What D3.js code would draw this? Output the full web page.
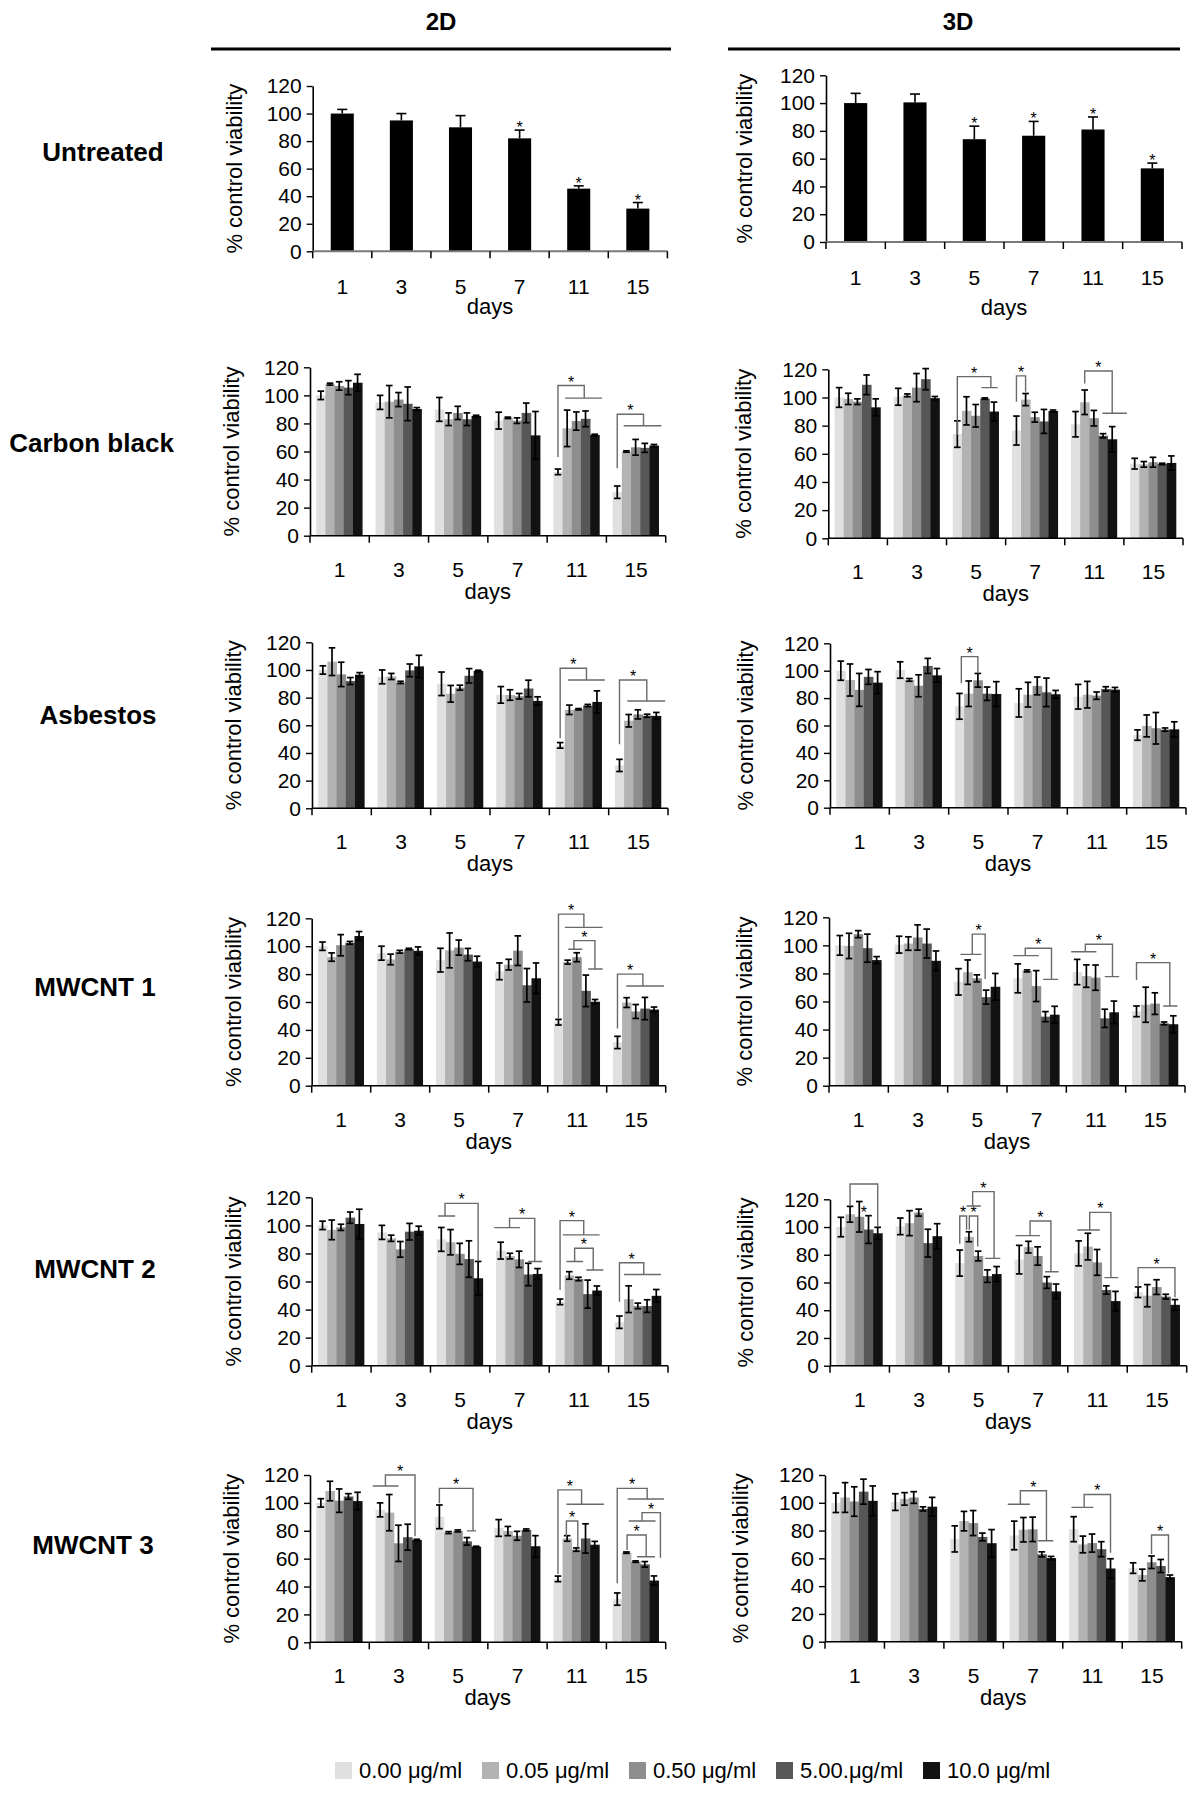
<!DOCTYPE html>
<html><head><meta charset="utf-8">
<script src="https://cdn.jsdelivr.net/npm/d3@7"></script>
<style>
body{margin:0;background:#fff;}
svg text{font-family:"Liberation Sans", Arial, Helvetica, sans-serif;}
</style></head><body>
<svg id="chart" width="1200" height="1793"></svg>
<script>
// ---------------- DATA ----------------
const days = ["1","3","5","7","11","15"];
const doses = ["0.00 μg/ml","0.05 μg/ml","0.50 μg/ml","5.00.μg/ml","10.0 μg/ml"];
const yTicks = [0,20,40,60,80,100,120];
const columnTitles = ["2D","3D"];
const rowLabels = ["Untreated","Carbon black","Asbestos","MWCNT 1","MWCNT 2","MWCNT 3"];
const xTitle = "days";
const yTitle = "% control viability";

const untreated2D = [100,95,90,82,45.5,31];
const untreated2DErr = [3,5,8.5,6,2,4.4];
const untreated2DSig = [0,0,0,1,1,1];
const untreated3D = [100,100.5,74,76.5,81,53];
const untreated3DErr = [7,6,9.4,10.3,9,3.8];
const untreated3DSig = [0,0,1,1,1,1];

// values per day (rows) x dose (columns)
const carbon2D = [[100,108,106.7,105.5,109],[95,95.5,97,94,90.3],[90,83,87.5,83,85.3],[82,84,82,87.5,71.5],[45.5,76.5,81.7,83.3,71.8],[31,60,63,62.6,64.2]];
const carbon2DErr = [[3,0.7,3,5,6],[5,11.5,5,12,1],[8.5,4.5,4.7,4.5,0.5],[6,0.5,2,7,17],[2,13,6.5,5.6,0.5],[4.4,0.5,5.6,3.2,0.8]];
const carbon3D = [[100,99,97,109,93],[100.5,101.5,107,113,99.5],[74,90.5,87,99.2,90],[76.5,98.5,86,83,90.4],[81,96.6,85.3,72.8,70.3],[53,52.5,54,52.8,53.5]];
const carbon3DErr = [[7,4,2,7,6],[6,1,10,7.5,1.2],[9.4,10,8,0.5,6.7],[10.3,4.3,3.5,8.5,0.7],[9,8.7,5.5,1.5,9],[3.8,2,3.5,0.5,5]];

const asbestos2D = [[100,106,96.8,92,96.6],[95,95.3,91,99.7,102.6],[90,82.8,87.2,95.8,99.3],[82,81.9,81,86.6,77.6],[45.5,71.2,71.6,74.3,76.9],[31,63.3,67.9,66.9,66.8]];
const asbestos2DErr = [[3,10,8.8,2.5,1.5],[5,2.2,0.8,4.6,8],[8.5,6,1.8,5.2,0.5],[6,3.8,2,6,3],[2,3.4,0.5,0.8,8],[4.4,4.5,3.3,1.1,2.5]];
const asbestos3D = [[100,93.2,86,95.5,91.3],[100.5,93.3,89,103.5,96.6],[74,83.2,93,83.2,83],[76.5,82.5,88.9,84.2,82.8],[81,82.5,81.8,86.7,86.2],[53,59.7,58,57,57.2]];
const asbestos3DErr = [[7,11.7,12,5.4,8],[6,1,8,5.5,5],[9.4,9.3,5,4.9,9],[10.3,9,6.5,10.4,2.8],[9,9.7,2.7,1.6,1.6],[3.8,8,11.5,1.2,5.5]];

const mwcnt1_2D = [[100,92.2,100.7,102.4,107.3],[95,90.5,96,98,96.7],[90,97,99,94,89],[82,86.8,96.8,72,77],[45.5,88.6,92.1,68,60.2],[31,59.6,53.2,55.3,54.6]];
const mwcnt1_2DErr = [[3,3,7.6,1,3.2],[5,3.8,1,0.5,2.8],[8.5,12.5,5.4,4.4,3.8],[6,3.8,10.6,12,11],[2,1.4,3.2,11.3,1.6],[4.4,3.5,5,8,1.8]];
const mwcnt1_3D = [[100,99.6,108,98,89.5],[100.5,101.3,105.6,101.3,89],[74,80.9,76.5,63.1,70.5],[76.5,81.8,71,49.2,50.6],[81,78.1,77,48,52.3],[53,57.7,58.5,44.4,43.8]];
const mwcnt1_3DErr = [[7,9,2.5,10,2.5],[6,4.8,9,10.3,7],[9.4,8.7,2.5,5,9.5],[10.3,0.7,11,3.6,6],[9,8,9,6.5,8],[3.8,12.5,7.7,1,6]];

const mwcnt2_2D = [[100,96.8,98.6,105.5,101],[95,90.8,82.9,95.5,96.2],[90,88,79.7,76,62.3],[82,78.1,75.8,65,65.4],[45.5,64.3,61.8,51,53.6],[31,47.4,42.6,42.5,49.8]];
const mwcnt2_2DErr = [[3,7,2.2,4,10.5],[5,2.2,5.6,5.9,3.2],[8.5,9,7.5,13,12],[6,2,5.8,8,3.8],[2,2.7,1.2,10,3.2],[4.4,9.5,2,4.5,4.5]];
const mwcnt2_3D = [[100,109.2,107.4,98.2,95.5],[100.5,102.8,110.4,88.4,93.4],[74,93,79.1,64.6,66.1],[76.5,85.5,79.1,60,53.6],[81,85.9,74.5,54.6,46.6],[53,50.5,56.7,49.8,43.9]];
const mwcnt2_3DErr = [[7,5.7,11,10,4.3],[6,9,2.5,10,9],[9.4,3.6,3.5,4.5,5.4],[10.3,4.2,6.6,4.2,5.3],[9,9.6,9.3,3,7],[3.8,8,5.3,1.7,3.8]];

const mwcnt3_2D = [[100,108.5,101.6,104.6,101.3],[95,93,71,75.4,73.4],[90,78.7,79.9,72.4,68.6],[82,79.8,76.4,80.6,68.9],[45.5,74.5,66.5,74.5,70],[31,64.3,57.9,55.9,44.3]];
const mwcnt3_2DErr = [[3,7,8.4,2,6.3],[5,13,13,9.3,0.5],[8.5,0.7,0.7,2.7,0.3],[6,3.3,3.2,0.7,7.6],[2,2,1.2,10.5,2.4],[4.4,0.5,0.5,2,3.3]];
const mwcnt3_3D = [[100,103.8,100.9,108,101.4],[100.5,102.8,103.8,95.6,97.2],[74,86.8,85.4,75.4,70.9],[76.5,80.6,80.9,62.9,60.2],[81,70,71,66.6,52.7],[53,48,57.2,54.5,46.5]];
const mwcnt3_3DErr = [[7,10.7,10.6,9,10.7],[6,4.5,4.2,1.5,6.7],[9.4,7,9,2.8,9.8],[10.3,8.8,8.8,1.8,1.2],[9,6,6.5,5.4,7],[3.8,4.2,4.5,4.7,1.5]];

// significance brackets: [dayIndex, legBar, legLow, top, otherBar, otherLow, groupFrom, groupTo, legGroupFrom, legGroupTo, starValue]
const carbon2DSig = [[4,0,56,107,2.86,98,0.78,4.8,null,null],[5,0,48,86.5,2.86,78.4,0.7,4.8,null,null]];
const carbon3DSig = [[2,0,73.4,114.8,3.66,107,2.64,4.4,null,null],[3,0,97,115.3,1,104,null,null,null,null],[4,1,110,118.8,4,88.8,2.93,5.6,null,null]];
const asbestos2DSig = [[4,0,50.6,101.2,2.86,92.8,0.85,4.86,null,null],[5,0,46.3,92.8,2.97,77.6,0.85,4.97,null,null]];
const asbestos3DSig = [[2,0.2,90.8,110.3,2,98,null,null,null,null]];
const mwcnt1_2DSig = [[4,0,48,123,2.78,113.5,0.7,4.83,null,null],[4,1.69,97.8,104,3.99,83.7,3.26,4.83,1.07,2.6],[5,0,41,80,2.78,71.5,0.96,5.08,null,null]];
const mwcnt1_3DSig = [[2,1.5,93.6,108,2.9,76,null,null,0.2,2.5],[3,0.81,92.7,97.9,3.66,75.8,2.75,4.39,-0.5,2.27],[4,0.89,95.5,100.8,3.84,77.7,3.0,4.57,-0.65,2.09],[5,0,75.3,87.7,3.62,56.8,2.9,4.46,null,null]];
const mwcnt2_2DSig = [[2,0.4,106.7,115.7,4,74.5,null,null,-0.35,1.5],[3,0.96,98.4,105,3.7,74.2,2.98,4.5,-0.7,2.1],[4,0,54,103.4,2.57,93.2,0.3,4.3,null,null],[4,1.58,74.2,83.7,3.6,68.2,2.86,4.7,0.7,2.5],[5,0,45.6,73.4,2.64,65,0.5,4.5,null,null]];
const mwcnt2_3DSig = [[0,1,115.2,131,4,100.3,null,null,null,null,111],[2,0,88,108,0.74,98,null,null,null,null],[2,1.04,98,108,1.95,86,null,null,null,null],[2,1.4,115.2,125.5,3.73,77.4,2.75,4.4,0.74,2.3],[3,1.18,93.8,104.4,3.44,67.8,2.82,4.28,-0.4,2.27],[4,1.2,97.9,110.6,3.5,63.5,2.8,4.3,-0.14,2.3],[5,0,57,70.7,4,49.3,null,null,null,null]];
const mwcnt3_2DSig = [[1,0.58,112.1,120,3.8,76,null,null,-0.8,2.0],[2,0,99.7,110.4,3.66,79.9,3.0,4.0,null,null],[4,0,49,109.3,2.57,99,0.92,5.0,null,null],[4,0.92,75.8,87,2.16,68.1,null,null,null,null],[5,0,42.3,110.4,3.26,102.8,1.14,5.08,null,null],[5,2.7,87,93,4.7,60.7,null,null,1.25,4.17],[5,1.07,66.2,77,3.15,61.4,2.15,4.1,null,null]];
const mwcnt3_3DSig = [[3,0.67,98.9,108.7,3.5,72.7,2.6,4.24,-0.7,1.7],[4,1.14,96.7,106,4,64,null,null,-0.24,2.13],[5,2,63.1,76.8,3.84,49.2,null,null,null,null]];

// ---------------- LAYOUT ----------------
const colors = ["#e0e0e0","#b3b3b3","#8e8e8e","#575757","#121212"];
const FONT = 21;
const svg = d3.select("#chart");

// column titles and rules
const titleLayout = [{x:441, lineX:[211,671]},{x:958, lineX:[728,1180]}];
columnTitles.forEach((t,i)=>{
  svg.append("text").attr("x",titleLayout[i].x).attr("y",30).attr("text-anchor","middle")
    .attr("font-size",24).attr("font-weight","bold").text(t);
  svg.append("line").attr("x1",titleLayout[i].lineX[0]).attr("x2",titleLayout[i].lineX[1])
    .attr("y1",49).attr("y2",49).attr("stroke","#000").attr("stroke-width",3);
});

const rowLabelPos = [[103,152],[91.5,443],[98,715],[95,987],[95,1269],[93,1545]];
rowLabels.forEach((t,i)=>{
  svg.append("text").attr("x",rowLabelPos[i][0]).attr("y",rowLabelPos[i][1]+9)
    .attr("text-anchor","middle").attr("font-size",26).attr("font-weight","bold").text(t);
});

function frameAxes(g, x, y, frame, opts){
  const [x0,x1,yT,yB] = frame;
  const ya = g.append("g").attr("transform",`translate(${x0},0)`)
    .call(d3.axisLeft(y).tickValues(yTicks).tickSize(6).tickSizeOuter(0).tickPadding(5));
  ya.select(".domain").attr("stroke","#000").attr("stroke-width",1.6);
  ya.selectAll(".tick line").attr("stroke","#000").attr("stroke-width",1.4);
  ya.selectAll("text").attr("font-size",FONT).attr("font-family","Liberation Sans, Arial, sans-serif").attr("fill","#000");
  g.append("line").attr("x1",x0).attr("x2",x1).attr("y1",y(0)).attr("y2",y(0))
    .attr("stroke",opts.baseColor).attr("stroke-width",opts.baseWidth);
  const bounds = d3.range(days.length+1).map(i=>x.range()[0]+i*x.step());
  g.selectAll(".bt").data(bounds).join("line").attr("class","bt")
    .attr("x1",d=>d).attr("x2",d=>d).attr("y1",y(0)).attr("y2",y(0)+7)
    .attr("stroke","#000").attr("stroke-width",1.5);
  g.selectAll(".dl").data(days).join("text").attr("class","dl")
    .attr("x",d=>x(d)+x.bandwidth()/2).attr("y",y(0)+opts.labelDy)
    .attr("text-anchor","middle").attr("font-size",FONT).text(d=>d);
  g.append("text").attr("x",(x0+x1)/2).attr("y",y(0)+opts.daysDy)
    .attr("text-anchor","middle").attr("font-size",22).text(xTitle);
  const cx = x0 + opts.yTitleDx, cy = (yT+yB)/2;
  g.append("text").attr("transform",`translate(${cx+6},${cy}) rotate(-90)`)
    .attr("text-anchor","middle").attr("font-size",22).text(yTitle);
}

function untreatedPanel(frame, vals, errs, sig, opts){
  const [x0,x1,yT,yB] = frame;
  const g = svg.append("g");
  const x = d3.scaleBand().domain(days).range([x0,x1]).padding(0);
  const y = d3.scaleLinear().domain([0,120]).range([yB,yT]);
  const bw = x.bandwidth()*0.39;
  const cx = (d,i)=>x(days[i])+x.bandwidth()/2;
  g.selectAll(".bar").data(vals).join("rect").attr("class","bar")
    .attr("x",(d,i)=>cx(d,i)-bw/2).attr("width",bw)
    .attr("y",d=>y(d)).attr("height",d=>y(0)-y(d)).attr("fill","#000");
  g.selectAll(".eb").data(vals).join("line").attr("class","eb")
    .attr("x1",cx).attr("x2",cx).attr("y1",d=>y(d)).attr("y2",(d,i)=>y(d+errs[i]))
    .attr("stroke","#000").attr("stroke-width",1.6);
  g.selectAll(".ec").data(vals).join("line").attr("class","ec")
    .attr("x1",(d,i)=>cx(d,i)-5).attr("x2",(d,i)=>cx(d,i)+5)
    .attr("y1",(d,i)=>y(d+errs[i])).attr("y2",(d,i)=>y(d+errs[i]))
    .attr("stroke","#000").attr("stroke-width",1.6);
  g.selectAll(".st").data(vals.map((d,i)=>({d,i})).filter(o=>sig[o.i])).join("text").attr("class","st")
    .attr("x",o=>cx(o.d,o.i)).attr("y",o=>y(o.d+errs[o.i])+3)
    .attr("text-anchor","middle").attr("font-size",16).attr("fill","#000").text("*");
  frameAxes(g,x,y,frame,opts);
}

function dosePanel(frame, vals, errs, sig, opts){
  const [x0,x1,yT,yB] = frame;
  const g = svg.append("g");
  const x = d3.scaleBand().domain(days).range([x0,x1]).padding(0);
  const y = d3.scaleLinear().domain([0,120]).range([yB,yT]);
  const inner = d3.scaleBand().domain(d3.range(doses.length))
    .range([x.bandwidth()*0.105, x.bandwidth()*0.88]).padding(0);
  const bw = inner.bandwidth();
  const px = (di,pos)=>x(days[di])+inner.range()[0]+(pos+0.5)*bw;
  const flat = [];
  vals.forEach((row,di)=>row.forEach((v,k)=>flat.push({di,k,v,e:errs[di][k]})));
  g.selectAll(".bar").data(flat).join("rect").attr("class","bar")
    .attr("x",d=>x(days[d.di])+inner(d.k)).attr("width",bw+0.4)
    .attr("y",d=>y(d.v)).attr("height",d=>y(0)-y(d.v)).attr("fill",d=>colors[d.k]);
  const cap = bw*0.36;
  const eg = g.append("g").attr("stroke","#000").attr("stroke-width",1.7);
  eg.selectAll(".ev").data(flat).join("line")
    .attr("x1",d=>px(d.di,d.k)).attr("x2",d=>px(d.di,d.k))
    .attr("y1",d=>y(d.v-d.e)).attr("y2",d=>y(d.v+d.e));
  eg.selectAll(".et").data(flat).join("line")
    .attr("x1",d=>px(d.di,d.k)-cap).attr("x2",d=>px(d.di,d.k)+cap)
    .attr("y1",d=>y(d.v+d.e)).attr("y2",d=>y(d.v+d.e));
  eg.selectAll(".eb").data(flat).join("line")
    .attr("x1",d=>px(d.di,d.k)-cap).attr("x2",d=>px(d.di,d.k)+cap)
    .attr("y1",d=>y(d.v-d.e)).attr("y2",d=>y(d.v-d.e));
  const sg = g.append("g");
  sig.forEach(s=>{
    const [di,a,low,top,b,blow,g1,g2,lg1,lg2,sv] = s;
    const path = d3.path();
    path.moveTo(px(di,a),y(low)); path.lineTo(px(di,a),y(top));
    path.lineTo(px(di,b),y(top)); path.lineTo(px(di,b),y(blow));
    if(g1!==null){ path.moveTo(px(di,g1),y(blow)); path.lineTo(px(di,g2),y(blow)); }
    if(lg1!==null){ path.moveTo(px(di,lg1),y(low)); path.lineTo(px(di,lg2),y(low)); }
    sg.append("path").attr("d",path.toString()).attr("fill","none")
      .attr("stroke","#6a6a6a").attr("stroke-width",1.4);
    const starY = (sv!==undefined && sv!==null) ? y(sv)+6 : y(top)+2;
    sg.append("text").attr("x",px(di,(a+b)/2)).attr("y",starY)
      .attr("text-anchor","middle").attr("font-size",16).attr("fill","#000").text("*");
  });
  frameAxes(g,x,y,frame,opts);
}

const doseOpts2D = {baseColor:"#000", baseWidth:1.6, labelDy:41, daysDy:63, yTitleDx:-77};
const doseOpts3D = {baseColor:"#000", baseWidth:1.6, labelDy:41, daysDy:63, yTitleDx:-83};

untreatedPanel([312.7,667.4,86,251.3], untreated2D, untreated2DErr, untreated2DSig,
  {baseColor:"#7a7a7a", baseWidth:2, labelDy:43, daysDy:63, yTitleDx:-77});
untreatedPanel([826,1182,75.3,242], untreated3D, untreated3DErr, untreated3DSig,
  {baseColor:"#7a7a7a", baseWidth:2, labelDy:43, daysDy:73, yTitleDx:-80});

dosePanel([310,665.7,367.3,535.7], carbon2D, carbon2DErr, carbon2DSig, doseOpts2D);
dosePanel([828.3,1183,369.3,538.3], carbon3D, carbon3DErr, carbon3DSig, doseOpts3D);
dosePanel([312,668,642.3,808.3], asbestos2D, asbestos2DErr, asbestos2DSig, doseOpts2D);
dosePanel([830,1186,643.3,807.7], asbestos3D, asbestos3DErr, asbestos3DSig, doseOpts3D);
dosePanel([311.7,665.7,918.3,1085.7], mwcnt1_2D, mwcnt1_2DErr, mwcnt1_2DSig, doseOpts2D);
dosePanel([829,1185,917.3,1085.7], mwcnt1_3D, mwcnt1_3DErr, mwcnt1_3DSig, doseOpts3D);
dosePanel([311.7,668,1197.3,1365.7], mwcnt2_2D, mwcnt2_2DErr, mwcnt2_2DSig, doseOpts2D);
dosePanel([830,1186.7,1199.3,1365.7], mwcnt2_3D, mwcnt2_3DErr, mwcnt2_3DSig, doseOpts3D);
dosePanel([310,665.7,1475,1642.3], mwcnt3_2D, mwcnt3_2DErr, mwcnt3_2DSig, doseOpts2D);
dosePanel([825,1181.7,1475,1641.7], mwcnt3_3D, mwcnt3_3DErr, mwcnt3_3DSig, doseOpts3D);

// legend
const lx = d3.scalePoint().domain(doses).range([335,923]);
const lg = svg.append("g");
lg.selectAll("rect").data(doses).join("rect")
  .attr("x",d=>lx(d)).attr("y",1762).attr("width",17).attr("height",17)
  .attr("fill",(d,i)=>colors[i]);
lg.selectAll("text").data(doses).join("text")
  .attr("x",d=>lx(d)+24).attr("y",1778).attr("font-size",22).text(d=>d);
</script>
</body></html>
